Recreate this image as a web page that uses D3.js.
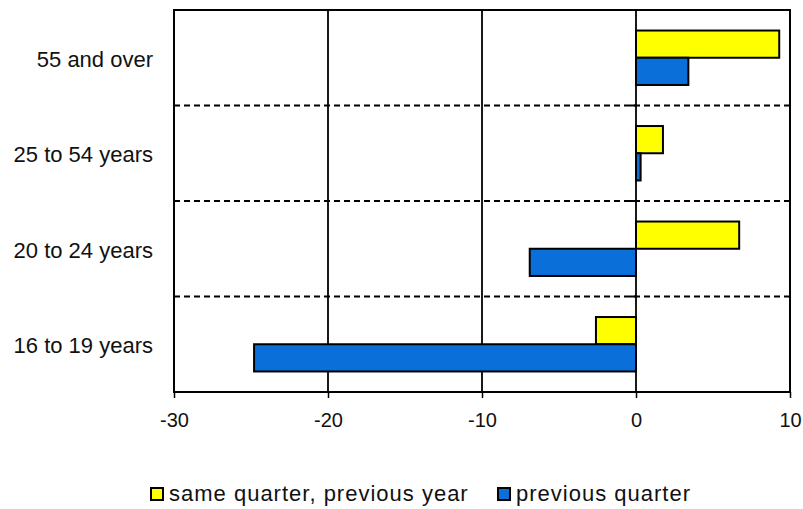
<!DOCTYPE html>
<html><head><meta charset="utf-8">
<script src="https://cdn.jsdelivr.net/npm/d3@7"></script>
<style>body{margin:0;background:#fff;} text{font-family:"Liberation Sans",Arial,sans-serif;fill:#111;}</style>
</head><body>
<svg id="c" width="803" height="509"></svg>
<script>
const categories = ["55 and over", "25 to 54 years", "20 to 24 years", "16 to 19 years"];
const seriesNames = ["same quarter, previous year", "previous quarter"];
const sameQuarterPrevYear = [9.3, 1.75, 6.7, -2.6];
const previousQuarter = [3.4, 0.3, -6.9, -24.8];
const xTicks = [-30, -20, -10, 0, 10];
const colors = ["#FFFF00", "#0B6FD9"];

const svg = d3.select("#c");
const L = 174, R = 790, T = 10, B = 392;
const x = d3.scaleLinear().domain([-30, 10]).range([L, R]);
const y = d3.scaleBand().domain(categories).range([T, B]).paddingInner(0.43).paddingOuter(0.215);
const y1 = d3.scaleBand().domain([0, 1]).range([0, y.bandwidth()]);
const stepY = (B - T) / categories.length;

// gridlines
svg.append("g").selectAll("line").data(xTicks.slice(1, -1)).join("line")
  .attr("x1", d => x(d)).attr("x2", d => x(d)).attr("y1", T).attr("y2", B)
  .attr("stroke", "#000").attr("stroke-width", 1.8);

// dashed separators
svg.append("g").selectAll("line").data(d3.range(1, categories.length)).join("line")
  .attr("x1", L).attr("x2", R).attr("y1", i => T + i * stepY).attr("y2", i => T + i * stepY)
  .attr("stroke", "#000").attr("stroke-width", 2).attr("stroke-dasharray", "6,4");

// category ticks at zero line
svg.append("g").selectAll("line").data(d3.range(0, categories.length + 1)).join("line")
  .attr("x1", x(0) - 6).attr("x2", x(0)).attr("y1", i => T + i * stepY).attr("y2", i => T + i * stepY)
  .attr("stroke", "#000").attr("stroke-width", 2);

// bars
const data = categories.map((c, i) => ({c, v: [sameQuarterPrevYear[i], previousQuarter[i]]}));
const g = svg.append("g").selectAll("g").data(data).join("g")
  .attr("transform", d => `translate(0,${y(d.c)})`);
g.selectAll("rect").data(d => d.v.map((v, k) => ({v, k}))).join("rect")
  .attr("x", d => x(Math.min(0, d.v))).attr("width", d => Math.abs(x(d.v) - x(0)))
  .attr("y", d => y1(d.k)).attr("height", y1.bandwidth())
  .attr("fill", d => colors[d.k]).attr("stroke", "#000").attr("stroke-width", 2);

// border
svg.append("rect").attr("x", L).attr("y", T).attr("width", R - L).attr("height", B - T)
  .attr("fill", "none").attr("stroke", "#000").attr("stroke-width", 2);

// x axis
const xa = svg.append("g").attr("transform", `translate(0,${B})`)
  .call(d3.axisBottom(x).tickValues(xTicks).tickSize(6).tickPadding(15).tickFormat(d => String(d)));
xa.select(".domain").remove();
xa.selectAll("line").attr("stroke-width", 1.5);
xa.selectAll("text").attr("font-size", 20).attr("fill", "#111")
  .attr("font-family", "'Liberation Sans', Arial, sans-serif");

// y labels
svg.append("g").selectAll("text").data(categories).join("text")
  .attr("x", 153).attr("y", d => y(d) + y.bandwidth() / 2).attr("dy", "0.42em")
  .attr("text-anchor", "end").attr("font-size", 22).text(d => d);

// legend
const legX = [151, 498];
const lg = svg.append("g").selectAll("g").data(seriesNames).join("g")
  .attr("transform", (d, i) => `translate(${legX[i]},488)`);
lg.append("rect").attr("width", 12).attr("height", 12).attr("fill", (d, i) => colors[i])
  .attr("stroke", "#000").attr("stroke-width", 2);
lg.append("text").attr("x", 18).attr("y", 13).attr("font-size", 22)
  .attr("letter-spacing", 1).text(d => d);
</script>
</body></html>
